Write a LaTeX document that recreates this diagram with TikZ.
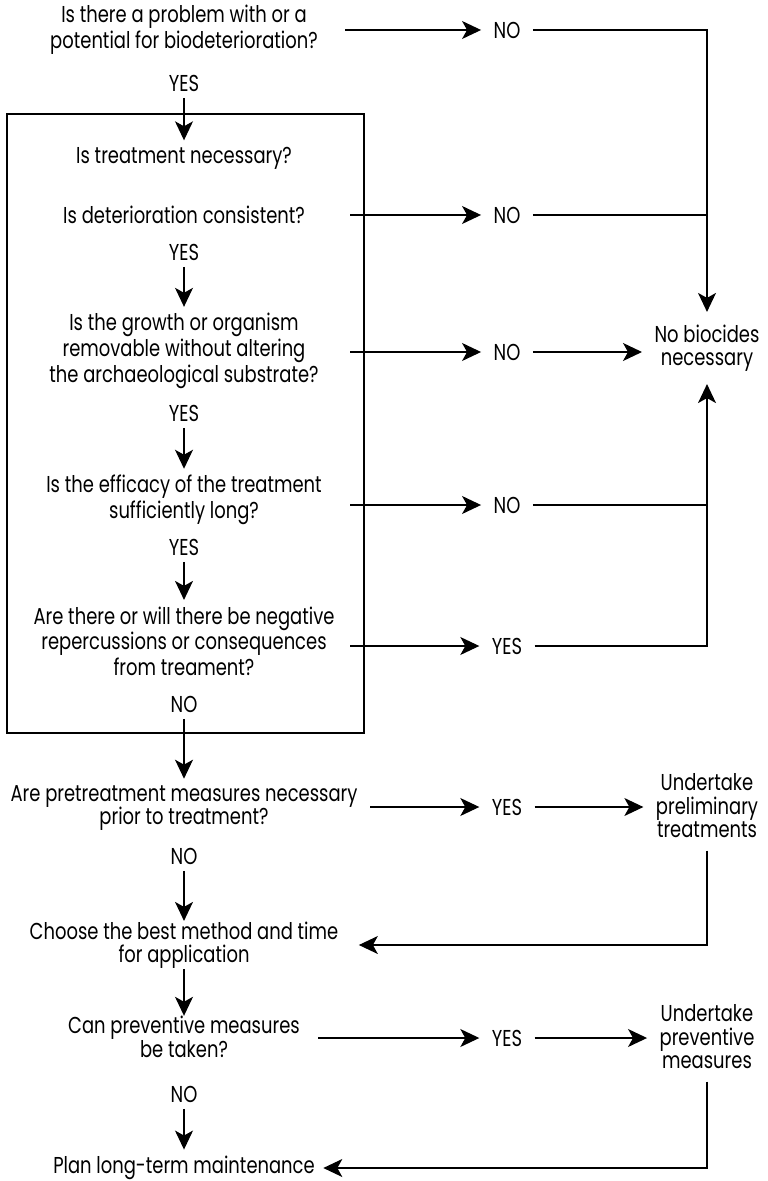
\documentclass[tikz,border=0pt]{standalone}
\usepackage{fontspec}
\setmainfont[FakeStretch=0.78]{Poppins}
\usetikzlibrary{arrows.meta}

\begin{document}
\begin{tikzpicture}[
    x=0.5pt, y=-0.5pt,
    line width=0.6pt,
    ques/.style={align=center, inner xsep=4pt, inner ysep=3pt, font=\fontsize{11.5pt}{11.75pt}\selectfont},
    lbl/.style={inner xsep=6pt, inner ysep=3pt, font=\fontsize{11.5pt}{11.75pt}\selectfont},
    arr/.style={-{Stealth[length=9.5pt, width=9pt, inset=2.5pt]}}
]
\useasboundingbox (0,0) rectangle (767,1181);
\coordinate (lx) at (350,0);

% questions in the left column
\node[ques] (q1) at (184,30) {Is there a problem with or a\\potential for biodeterioration?};
\node[lbl] (yes1) at (184,83) {YES};
\node[ques] (qtreat) at (184,158) {Is treatment necessary?};
\node[ques] (qcons) at (184,215) {Is deterioration consistent?};
\node[lbl] (yes2) at (184,252) {YES};
\node[ques] (qremove) at (184,351) {Is the growth or organism\\removable without altering\\the archaeological substrate?};
\node[lbl] (yes3) at (184,413) {YES};
\node[ques] (qeff) at (184,500) {Is the efficacy of the treatment\\sufficiently long?};
\node[lbl] (yes4) at (184,547) {YES};
\node[ques] (qrep) at (184,641) {Are there or will there be negative\\repercussions or consequences\\from treament?};
\node[lbl] (no5) at (184,704) {NO};
\node[ques] (qpre) at (184,808) {Are pretreatment measures necessary\\prior to treatment?};
\node[lbl] (no6) at (184,856) {NO};
\node[ques, inner ysep=0pt] (qchoose) at (184,945) {Choose the best method and time\\for application};
\node[ques, inner ysep=0pt] (qcan) at (184,1037) {Can preventive measures\\be taken?};
\node[lbl] (no7) at (184,1094) {NO};
\node[ques] (qplan) at (184,1168) {Plan long-term maintenance};

% answers in the middle
\node[lbl] (no1) at (507,30) {NO};
\node[lbl] (no2) at (507,215) {NO};
\node[lbl] (no3) at (507,352) {NO};
\node[lbl] (no4) at (507,505) {NO};
\node[lbl] (yes5) at (507,646) {YES};
\node[lbl] (yes6) at (507,807) {YES};
\node[lbl] (yes7) at (507,1038) {YES};

% outcomes on the right
\node[ques, inner sep=6pt] (nobio) at (707,348) {No biocides\\necessary};
\node[ques, inner sep=6pt] (prelim) at (707,806) {Undertake\\preliminary\\treatments};
\node[ques, inner sep=6pt] (prevent) at (707,1037) {Undertake\\preventive\\measures};

% frame round the treatment questions
\draw (7,114) rectangle (364,733);

\draw[arr] (no1 -| 345,0) -- (no1);
\draw[arr] (no2 -| lx) -- (no2);
\draw[arr] (no3 -| lx) -- (no3);
\draw[arr] (no4 -| lx) -- (no4);
\draw[arr] (yes5 -| lx) -- (yes5);
\draw[arr] (yes6 -| 370,0) -- (yes6);
\draw[arr] (yes7 -| 318,0) -- (yes7);

\draw[arr] (no1) -| (nobio.north);
\draw (no2) -- (no2 -| nobio);
\draw[arr] (no3) -- (no3 -| nobio.west);
\draw (no4) -- (no4 -| nobio);
\draw[arr] (yes5) -| (nobio.south);

\draw[arr] (yes6) -- (prelim.west |- yes6);
\draw[arr] (prelim.south) |- ([xshift=6pt]qchoose.east);
\draw[arr] (yes7) -- (prevent.west |- yes7);
\draw[arr] (prevent.south) |- (qplan.east);

\draw[arr] (yes1) -- (qtreat);
\draw[arr] (yes2) -- (qremove);
\draw[arr] (yes3) -- (qeff);
\draw[arr] (yes4) -- (qrep);
\draw[arr] (no5) -- (qpre);
\draw[arr] (no6) -- (qchoose);
\draw[arr] (qchoose) -- (qcan);
\draw[arr] (no7) -- (qplan);
\end{tikzpicture}
\end{document}
